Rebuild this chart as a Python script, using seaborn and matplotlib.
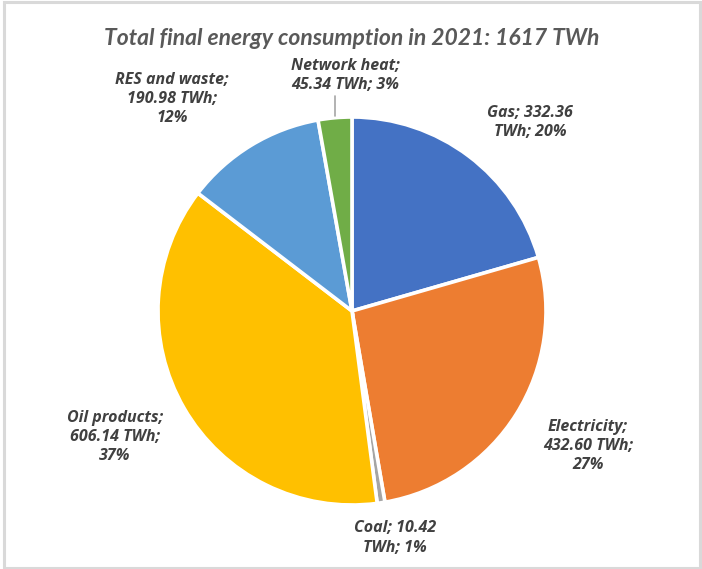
import matplotlib
matplotlib.use("Agg")
import matplotlib.pyplot as plt
import seaborn as sns
from matplotlib.patches import Rectangle

sns.set_theme(style="white")
plt.rcParams['font.family'] = ['Open Sans', 'DejaVu Sans']

# ---- data ----
categories = ["Gas", "Electricity", "Coal", "Oil products", "RES and waste", "Network heat"]
values = [332.36, 432.60, 10.42, 606.14, 190.98, 45.34]
percents = [20, 27, 1, 37, 12, 3]
title = "Total final energy consumption in 2021: 1617 TWh"

colors = ["#4472C4", "#ED7D31", "#A5A5A5", "#FFC000", "#5B9BD5", "#70AD47"]

W, H = 702, 569
fig = plt.figure(figsize=(W / 100, H / 100), dpi=100)
fig.patch.set_facecolor("white")
ax = fig.add_axes([0, 0, 1, 1])

# chart border
fig.patches.append(Rectangle((4 / W, 1 / H), 696 / W, 566 / H, transform=fig.transFigure,
                             facecolor="none", edgecolor="#D9D9D9", linewidth=2.2))

cx, cy, r = 352, H - 311, 194
ax.pie(values, colors=colors, startangle=90, counterclock=False,
       center=(cx, cy), radius=r, frame=True,
       wedgeprops=dict(edgecolor="white", linewidth=2.6))
ax.set_xlim(0, W)
ax.set_ylim(0, H)
ax.set_aspect("equal")
ax.axis("off")

ax.text(352, H - 38, title, ha="center", va="center", fontsize=16.5,
        style="italic", fontweight="bold", color="#595959",
        family=["Lato", "DejaVu Sans"])

# label texts built from the data
lbl = {
    "Gas": f"Gas; {values[0]:.2f}\nTWh; {percents[0]}%",
    "Electricity": f"Electricity;\n{values[1]:.2f} TWh;\n{percents[1]}%",
    "Coal": f"Coal; {values[2]:.2f}\nTWh; {percents[2]}%",
    "Oil products": f"Oil products;\n{values[3]:.2f} TWh;\n{percents[3]}%",
    "RES and waste": f"RES and waste;\n{values[4]:.2f} TWh;\n{percents[4]}%",
    "Network heat": f"Network heat;\n{values[5]:.2f} TWh; {percents[5]}%",
}
pos = {
    "Gas": (530, 122),
    "Electricity": (588, 446),
    "Coal": (395, 538),
    "Oil products": (115, 437),
    "RES and waste": (172, 99),
    "Network heat": (345, 75),
}
for k, (x, y) in pos.items():
    ax.text(x, H - y, lbl[k], ha="center", va="center", fontsize=11.5,
            style="italic", fontweight="bold", color="#404040", linespacing=1.25)

# leader line for network heat
ax.plot([335, 335], [H - 96, H - 116], color="#A6A6A6", linewidth=1.2)

fig.savefig("out.png", dpi=100, facecolor="white")
